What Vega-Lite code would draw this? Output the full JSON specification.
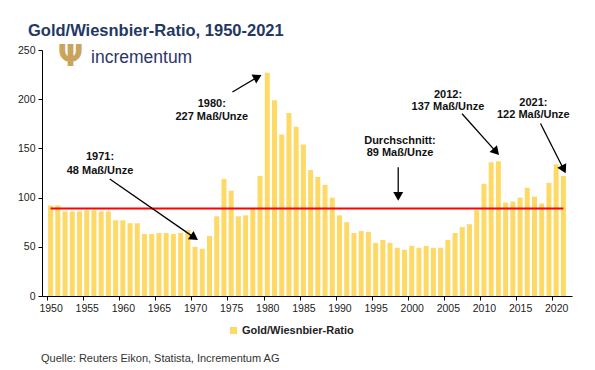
{
  "$schema": "https://vega.github.io/schema/vega-lite/v6.json",
  "width": 530,
  "height": 246,
  "autosize": {"type": "none"},
  "padding": {"left": 42, "top": 50, "right": 23, "bottom": 74},
  "background": "white",
  "title": {
    "text": "Gold/Wiesnbier-Ratio, 1950-2021",
    "anchor": "start",
    "frame": "group",
    "dx": -14,
    "offset": 2,
    "fontSize": 16.5,
    "font": "Liberation Sans",
    "fontWeight": "bold",
    "color": "#1F3864"
  },
  "config": {
    "view": {"stroke": null},
    "font": "Liberation Sans",
    "axis": {"labelOverlap": false, "labelFlush": false, "labelBound": false, "grid": false, "tickColor": "#000", "domainColor": "#000", "tickSize": 4, "labelFontSize": 10.5, "labelColor": "#222", "labelPadding": 3}
  },
  "datasets": {
    "bars": [
      {"year": 1950, "ratio": 92}, {"year": 1951, "ratio": 92}, {"year": 1952, "ratio": 86}, {"year": 1953, "ratio": 86},
      {"year": 1954, "ratio": 86}, {"year": 1955, "ratio": 87}, {"year": 1956, "ratio": 87}, {"year": 1957, "ratio": 86},
      {"year": 1958, "ratio": 86}, {"year": 1959, "ratio": 77}, {"year": 1960, "ratio": 77}, {"year": 1961, "ratio": 74},
      {"year": 1962, "ratio": 74}, {"year": 1963, "ratio": 63}, {"year": 1964, "ratio": 63}, {"year": 1965, "ratio": 64},
      {"year": 1966, "ratio": 64}, {"year": 1967, "ratio": 63}, {"year": 1968, "ratio": 64}, {"year": 1969, "ratio": 67},
      {"year": 1970, "ratio": 50}, {"year": 1971, "ratio": 48}, {"year": 1972, "ratio": 61}, {"year": 1973, "ratio": 81},
      {"year": 1974, "ratio": 119}, {"year": 1975, "ratio": 107}, {"year": 1976, "ratio": 81}, {"year": 1977, "ratio": 82},
      {"year": 1978, "ratio": 89}, {"year": 1979, "ratio": 122}, {"year": 1980, "ratio": 227}, {"year": 1981, "ratio": 199},
      {"year": 1982, "ratio": 164}, {"year": 1983, "ratio": 186}, {"year": 1984, "ratio": 172}, {"year": 1985, "ratio": 154},
      {"year": 1986, "ratio": 128}, {"year": 1987, "ratio": 121}, {"year": 1988, "ratio": 113}, {"year": 1989, "ratio": 100},
      {"year": 1990, "ratio": 82}, {"year": 1991, "ratio": 75}, {"year": 1992, "ratio": 64}, {"year": 1993, "ratio": 66},
      {"year": 1994, "ratio": 65}, {"year": 1995, "ratio": 54}, {"year": 1996, "ratio": 57}, {"year": 1997, "ratio": 54},
      {"year": 1998, "ratio": 49}, {"year": 1999, "ratio": 47}, {"year": 2000, "ratio": 51}, {"year": 2001, "ratio": 49},
      {"year": 2002, "ratio": 51}, {"year": 2003, "ratio": 49}, {"year": 2004, "ratio": 49}, {"year": 2005, "ratio": 57},
      {"year": 2006, "ratio": 64}, {"year": 2007, "ratio": 70}, {"year": 2008, "ratio": 73}, {"year": 2009, "ratio": 87},
      {"year": 2010, "ratio": 114}, {"year": 2011, "ratio": 136}, {"year": 2012, "ratio": 137}, {"year": 2013, "ratio": 95},
      {"year": 2014, "ratio": 96}, {"year": 2015, "ratio": 100}, {"year": 2016, "ratio": 110}, {"year": 2017, "ratio": 101},
      {"year": 2018, "ratio": 94}, {"year": 2019, "ratio": 115}, {"year": 2020, "ratio": 134}, {"year": 2021, "ratio": 122}
    ],
    "avg": [{"from": 1950, "to": 2021, "value": 89}],
    "labels": [
      {"x": 1956.84, "y": 141.3, "text": "1971:"},
      {"x": 1956.84, "y": 127.0, "text": "48 Maß/Unze"},
      {"x": 1972.32, "y": 195.1, "text": "1980:"},
      {"x": 1972.32, "y": 181.6, "text": "227 Maß/Unze"},
      {"x": 2005.02, "y": 204.3, "text": "2012:"},
      {"x": 2005.02, "y": 192.4, "text": "137 Maß/Unze"},
      {"x": 2016.84, "y": 196.4, "text": "2021:"},
      {"x": 2016.84, "y": 183.9, "text": "122 Maß/Unze"},
      {"x": 1998.37, "y": 157.5, "text": "Durchschnitt:"},
      {"x": 1998.37, "y": 145.0, "text": "89 Maß/Unze"}
    ],
    "arrows": [
      {"id": "a1971", "x": 1958.19, "y": 118.9, "x2": 1969.9, "y2": 59.3},
      {"id": "a1980", "x": 1975.18, "y": 207.3, "x2": 1978.67, "y2": 222.6},
      {"id": "a2012", "x": 2006.97, "y": 185.2, "x2": 2011.69, "y2": 146.5},
      {"id": "a2021", "x": 2017.83, "y": 175.3, "x2": 2021.05, "y2": 128.6},
      {"id": "aavg", "x": 1998.13, "y": 130.8, "x2": 1998.13, "y2": 101.2}
    ],
    "brand": [
      {"x": 1955.6, "y": 241.9, "text": "incrementum"}
    ],
    "logo": [
      {"x": 1952.76, "y": 242.9, "text": "Ψ"}
    ]
  },
  "layer": [
    {
      "data": {"name": "bars"},
      "mark": {"type": "bar", "width": 5},
      "encoding": {
        "x": {
          "field": "year",
          "type": "quantitative",
          "scale": {"domain": [1949.5, 2021.5], "nice": false, "zero": false},
          "axis": {
            "values": [1950, 1955, 1960, 1965, 1970, 1975, 1980, 1985, 1990, 1995, 2000, 2005, 2010, 2015, 2020],
            "format": "d",
            "labelAngle": 0,
            "labelOverlap": false,
            "tickOffset": -3.68,
            "labelOffset": 3.68,
            "title": "Quelle: Reuters Eikon, Statista, Incrementum AG",
            "titleX": -1.5,
            "titleY": 62,
            "titleAnchor": "start",
            "titleAlign": "left",
            "titleBaseline": "middle",
            "titleFontWeight": "normal",
            "titleFontSize": 11,
            "titleColor": "#333"
          }
        },
        "y": {
          "field": "ratio",
          "type": "quantitative",
          "scale": {"domain": [0, 250], "nice": false},
          "axis": {"values": [0, 50, 100, 150, 200, 250], "title": null}
        },
        "color": {
          "datum": "Gold/Wiesnbier-Ratio",
          "type": "nominal",
          "scale": {"range": ["#FFD966"]},
          "legend": {
            "orient": "none",
            "legendX": 186,
            "legendY": 275,
            "title": null,
            "symbolType": "square",
            "symbolSize": 50,
            "symbolStrokeWidth": 0,
            "labelFontSize": 11,
            "labelFontWeight": "bold",
            "labelColor": "#222",
            "labelOffset": 3
          }
        }
      }
    },
    {
      "data": {"name": "avg"},
      "mark": {"type": "rule", "color": "#FF0000", "strokeWidth": 2},
      "encoding": {
        "x": {"field": "from", "type": "quantitative", "axis": {"values": [1950, 1955, 1960, 1965, 1970, 1975, 1980, 1985, 1990, 1995, 2000, 2005, 2010, 2015, 2020]}},
        "x2": {"field": "to"},
        "y": {"field": "value", "type": "quantitative"}
      }
    },
    {
      "data": {"name": "arrows"},
      "mark": {"type": "rule", "color": "#000", "strokeWidth": 1.3},
      "encoding": {
        "x": {"field": "x", "type": "quantitative", "axis": {"values": [1950, 1955, 1960, 1965, 1970, 1975, 1980, 1985, 1990, 1995, 2000, 2005, 2010, 2015, 2020]}},
        "x2": {"field": "x2"},
        "y": {"field": "y", "type": "quantitative"},
        "y2": {"field": "y2"}
      }
    },
    {
      "data": {"name": "arrows"},
      "transform": [{"filter": "datum.id == 'a1971'"}],
      "mark": {"type": "point", "shape": "triangle-up", "filled": true, "color": "#000", "opacity": 1, "size": 100, "angle": 124},
      "encoding": {"x": {"field": "x2", "type": "quantitative", "axis": {"values": [1950, 1955, 1960, 1965, 1970, 1975, 1980, 1985, 1990, 1995, 2000, 2005, 2010, 2015, 2020]}}, "y": {"field": "y2", "type": "quantitative"}}
    },
    {
      "data": {"name": "arrows"},
      "transform": [{"filter": "datum.id == 'a1980'"}],
      "mark": {"type": "point", "shape": "triangle-up", "filled": true, "color": "#000", "opacity": 1, "size": 100, "angle": 62},
      "encoding": {"x": {"field": "x2", "type": "quantitative", "axis": {"values": [1950, 1955, 1960, 1965, 1970, 1975, 1980, 1985, 1990, 1995, 2000, 2005, 2010, 2015, 2020]}}, "y": {"field": "y2", "type": "quantitative"}}
    },
    {
      "data": {"name": "arrows"},
      "transform": [{"filter": "datum.id == 'a2012'"}],
      "mark": {"type": "point", "shape": "triangle-up", "filled": true, "color": "#000", "opacity": 1, "size": 100, "angle": 138},
      "encoding": {"x": {"field": "x2", "type": "quantitative", "axis": {"values": [1950, 1955, 1960, 1965, 1970, 1975, 1980, 1985, 1990, 1995, 2000, 2005, 2010, 2015, 2020]}}, "y": {"field": "y2", "type": "quantitative"}}
    },
    {
      "data": {"name": "arrows"},
      "transform": [{"filter": "datum.id == 'a2021'"}],
      "mark": {"type": "point", "shape": "triangle-up", "filled": true, "color": "#000", "opacity": 1, "size": 100, "angle": 153},
      "encoding": {"x": {"field": "x2", "type": "quantitative", "axis": {"values": [1950, 1955, 1960, 1965, 1970, 1975, 1980, 1985, 1990, 1995, 2000, 2005, 2010, 2015, 2020]}}, "y": {"field": "y2", "type": "quantitative"}}
    },
    {
      "data": {"name": "arrows"},
      "transform": [{"filter": "datum.id == 'aavg'"}],
      "mark": {"type": "point", "shape": "triangle-up", "filled": true, "color": "#000", "opacity": 1, "size": 100, "angle": 180},
      "encoding": {"x": {"field": "x2", "type": "quantitative", "axis": {"values": [1950, 1955, 1960, 1965, 1970, 1975, 1980, 1985, 1990, 1995, 2000, 2005, 2010, 2015, 2020]}}, "y": {"field": "y2", "type": "quantitative"}}
    },
    {
      "data": {"name": "labels"},
      "mark": {"type": "text", "fontSize": 11, "fontWeight": "bold", "color": "#111", "align": "center", "baseline": "middle"},
      "encoding": {
        "x": {"field": "x", "type": "quantitative", "axis": {"values": [1950, 1955, 1960, 1965, 1970, 1975, 1980, 1985, 1990, 1995, 2000, 2005, 2010, 2015, 2020]}},
        "y": {"field": "y", "type": "quantitative"},
        "text": {"field": "text"}
      }
    },
    {
      "data": {"name": "brand"},
      "mark": {"type": "text", "fontSize": 17.5, "color": "#2B3668", "align": "left", "baseline": "middle"},
      "encoding": {
        "x": {"field": "x", "type": "quantitative", "axis": {"values": [1950, 1955, 1960, 1965, 1970, 1975, 1980, 1985, 1990, 1995, 2000, 2005, 2010, 2015, 2020]}},
        "y": {"field": "y", "type": "quantitative"},
        "text": {"field": "text"}
      }
    },
    {
      "data": {"name": "logo"},
      "mark": {"type": "text", "fontSize": 30, "fontWeight": "bold", "color": "#C9A45C", "align": "center", "baseline": "middle", "font": "DejaVu Sans"},
      "encoding": {
        "x": {"field": "x", "type": "quantitative", "axis": {"values": [1950, 1955, 1960, 1965, 1970, 1975, 1980, 1985, 1990, 1995, 2000, 2005, 2010, 2015, 2020]}},
        "y": {"field": "y", "type": "quantitative"},
        "text": {"field": "text"}
      }
    }
  ]
}
